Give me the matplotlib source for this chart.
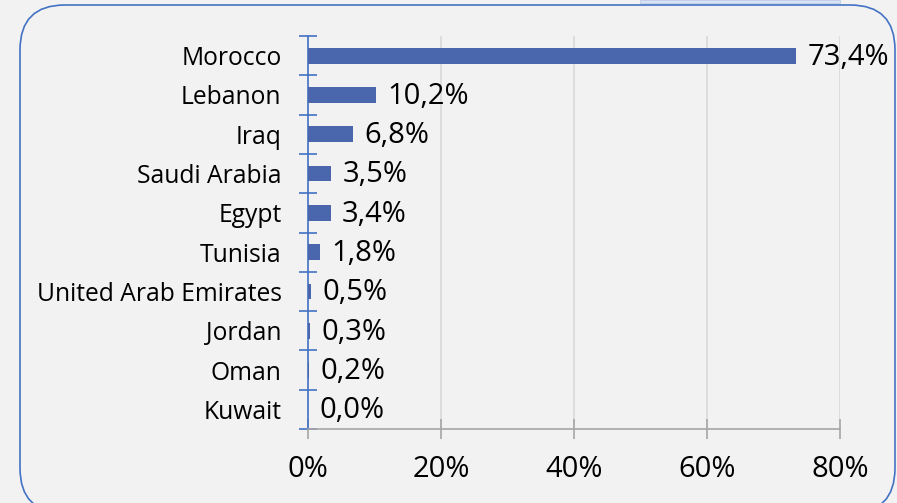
import matplotlib.pyplot as plt
from matplotlib.patches import FancyBboxPatch, Rectangle

# Data
countries = ['Morocco', 'Lebanon', 'Iraq', 'Saudi Arabia', 'Egypt', 'Tunisia',
             'United Arab Emirates', 'Jordan', 'Oman', 'Kuwait']
shares = [73.4, 10.2, 6.8, 3.5, 3.4, 1.8, 0.5, 0.3, 0.2, 0.0]
x_ticks = [0, 20, 40, 60, 80]

bg = '#F2F2F2'
bar_color = '#4A66AC'
blue_line = '#4472C4'

plt.rcParams['font.family'] = ['Open Sans', 'DejaVu Sans']

fig = plt.figure(figsize=(8.97, 5.03), dpi=100, facecolor=bg)

# Rounded frame around the chart
frame = FancyBboxPatch((20 / 897, -10 / 503), 875 / 897, 508 / 503,
                       boxstyle='round,pad=0,rounding_size=0.05',
                       transform=fig.transFigure, facecolor='none',
                       edgecolor=blue_line, linewidth=1.2, mutation_aspect=897 / 503)
fig.patches.append(frame)
fig.patches.append(Rectangle((640 / 897, 1 - 3 / 503), 200 / 897, 3 / 503,
                             transform=fig.transFigure, facecolor='#DAE3F3',
                             edgecolor='#B4C7E7', linewidth=0.5))

ax = fig.add_axes([308 / 897, 1 - 429 / 503, 532 / 897, 393 / 503])
ax.set_facecolor(bg)

y = list(range(len(countries)))
ax.barh(y, shares, height=0.4, color=bar_color, zorder=3)

for yi, v in zip(y, shares):
    ax.annotate(f'{v:.1f}%'.replace('.', ','), (v, yi), xytext=(8, -1),
                textcoords='offset points', va='center', ha='left', fontsize=21)

ax.set_xlim(0, 80)
ax.set_ylim(len(countries) - 0.5, -0.5)

ax.set_xticks(x_ticks)
ax.set_xticklabels([f'{t}%' for t in x_ticks], fontsize=21)
ax.tick_params(axis='x', direction='inout', length=14, color='#A6A6A6', width=1.2, pad=12)
ax.grid(axis='x', color='#D9D9D9', linewidth=1.2, zorder=0)

ax.set_yticks(y)
ax.set_yticklabels(countries, fontsize=17.7)
ax.tick_params(axis='y', length=0, pad=19)
ax.set_yticks([i - 0.5 for i in range(len(countries) + 1)], minor=True)
ax.tick_params(axis='y', which='minor', direction='inout', length=13, color=blue_line, width=1.2)

for s in ['top', 'right']:
    ax.spines[s].set_visible(False)
ax.spines['left'].set_color(blue_line)
ax.spines['left'].set_linewidth(1.2)
ax.spines['bottom'].set_color('#A6A6A6')
ax.spines['bottom'].set_linewidth(1.2)

fig.savefig('out.png', dpi=100, facecolor=bg)
